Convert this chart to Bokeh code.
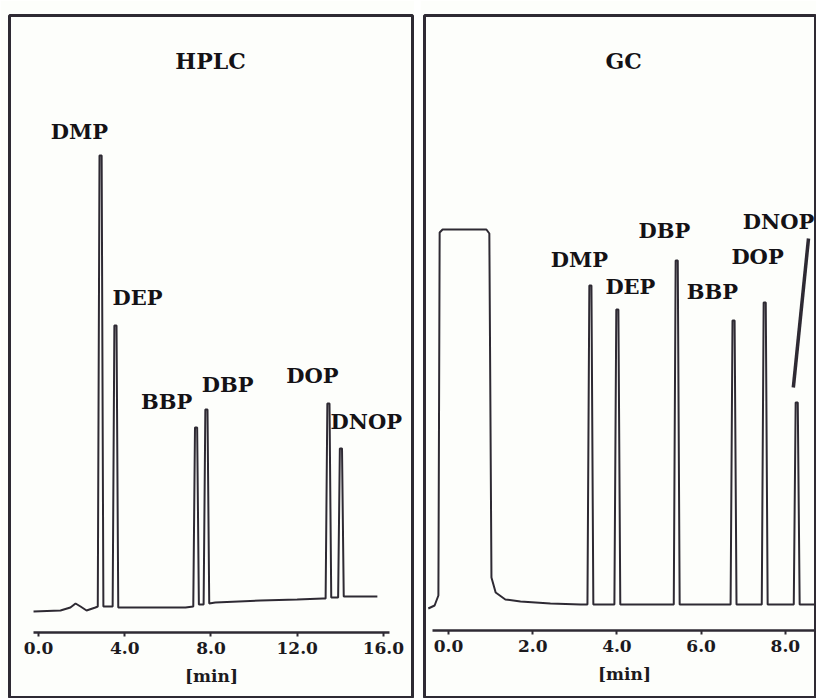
from bokeh.plotting import figure
from bokeh.layouts import row
from bokeh.models import LinearAxis, FixedTicker, PrintfTickFormatter, Range1d
from bokeh.core.properties import value
from bokeh.embed import file_html
from bokeh.resources import INLINE

# ---------------- data ----------------
# HPLC chromatogram: retention time [min] and detector response (arb. units)
hplc_time = [-0.23, 1.02, 1.48, 1.72, 1.95, 2.23, 2.64,
             2.75, 2.83, 2.93, 3.01, 3.20,
             3.44, 3.52, 3.62, 3.70, 3.90, 5.20, 6.82,
             7.18, 7.26, 7.36, 7.44, 7.55,
             7.66, 7.74, 7.84, 7.92, 8.20, 10.30, 12.00, 13.20,
             13.32, 13.40, 13.50, 13.58, 13.75,
             13.90, 13.98, 14.08, 14.16, 14.50, 15.72]
hplc_signal = [-4, -3, 0, 4, 1, -3, 0,
               1, 452, 452, 1, 1,
               1, 282, 282, 0, 0, 0, 0,
               1, 180, 180, 3, 3,
               3, 198, 198, 4, 5, 7, 8, 9,
               9, 204, 204, 10, 10,
               10, 159, 159, 11, 11, 11]

# GC chromatogram
gc_time = [-0.48, -0.33, -0.24, -0.21, -0.14, 0.90, 0.97,
           1.02, 1.12, 1.35, 1.71, 2.42, 3.14,
           3.30, 3.345, 3.395, 3.44,
           3.94, 3.985, 4.035, 4.08, 4.60,
           5.35, 5.395, 5.445, 5.49, 6.20,
           6.70, 6.745, 6.795, 6.84,
           7.44, 7.485, 7.535, 7.58,
           8.20, 8.245, 8.295, 8.34, 8.80]
gc_signal = [-1, 2, 12, 375, 378, 378, 374,
             30, 15, 8, 6, 4, 3,
             3, 322, 322, 3,
             3, 298, 298, 3, 3,
             3, 347, 347, 3, 3,
             3, 287, 287, 3,
             3, 305, 305, 3,
             3, 205, 205, 3, 3]

compounds_hplc = ["DMP", "DEP", "BBP", "DBP", "DOP", "DNOP"]
compounds_gc = ["DMP", "DEP", "DBP", "BBP", "DOP", "DNOP"]

hplc_ticks = [0, 4, 8, 12, 16]
gc_ticks = [0, 2, 4, 6, 8]

# ---------------- layout / styling (positions of annotations) ----------------
hplc_label_x = [1.90, 4.59, 5.94, 8.77, 12.71, 15.21]
hplc_label_y = [476, 310, 206, 223, 232, 186]
gc_label_x = [3.11, 4.32, 5.13, 6.27, 7.34, 7.84]
gc_label_y = [348, 321, 377, 316, 351, 386]
title_y = 547
dnop_leader_x = [8.19, 8.55]
dnop_leader_y = [220, 369]

INK = "#2e2a33"
BG = "#fdfefb"
FONT = "DejaVu Serif"
FIG_H = 698


def panel(width, x_range, mb_left, mb_right, ticks, axis_loc, bounds):
    p = figure(width=width, height=FIG_H, output_backend="svg", toolbar_location=None,
               x_range=Range1d(*x_range), y_range=Range1d(-91, 592),
               x_axis_type=None, y_axis_type=None,
               min_border_left=mb_left, min_border_right=mb_right,
               min_border_top=15, min_border_bottom=0)
    p.grid.visible = False
    p.background_fill_color = BG
    p.border_fill_color = BG
    p.outline_line_color = INK
    p.outline_line_width = 3
    ax = LinearAxis(fixed_location=axis_loc, bounds=bounds)
    ax.ticker = FixedTicker(ticks=ticks, minor_ticks=[])
    ax.formatter = PrintfTickFormatter(format="%.1f")
    ax.axis_line_color = INK
    ax.axis_line_width = 2.5
    ax.major_tick_line_color = INK
    ax.major_tick_line_width = 2
    ax.major_tick_in = 0
    ax.major_tick_out = 4
    ax.minor_tick_line_color = None
    ax.major_label_text_font = FONT
    ax.major_label_text_font_style = "bold"
    ax.major_label_text_font_size = "17px"
    ax.major_label_text_color = "#1c1a1e"
    ax.major_label_standoff = 5
    ax.axis_label = "[min]"
    ax.axis_label_text_font = FONT
    ax.axis_label_text_font_style = "bold"
    ax.axis_label_text_font_size = "17px"
    ax.axis_label_text_color = "#1c1a1e"
    ax.axis_label_standoff = 9
    p.add_layout(ax, "below")
    return p


# HPLC panel
p1 = panel(414, (-1.345, 17.35), 9, 2, hplc_ticks, -25, (-0.23, 16.3))
p1.line(hplc_time, hplc_signal, line_color=INK, line_width=2)
p1.text(x=hplc_label_x, y=hplc_label_y, text=compounds_hplc,
        text_align="center", text_baseline="middle",
        text_font=value(FONT), text_font_style="bold", text_font_size="21px",
        text_color="#141216")
p1.text(x=[7.98], y=[title_y], text=["HPLC"], text_align="center", text_baseline="middle",
        text_font=value(FONT), text_font_style="bold", text_font_size="22px",
        text_color="#141216")

# GC panel
p2 = panel(396, (-0.570, 8.74), 4, 0, gc_ticks, -23, (-0.38, 9.0))
p2.line(gc_time, gc_signal, line_color=INK, line_width=2)
p2.line(dnop_leader_x, dnop_leader_y, line_color=INK, line_width=3.5)
p2.text(x=gc_label_x, y=gc_label_y, text=compounds_gc,
        text_align="center", text_baseline="middle",
        text_font=value(FONT), text_font_style="bold", text_font_size="21px",
        text_color="#141216")
p2.text(x=[4.16], y=[title_y], text=["GC"], text_align="center", text_baseline="middle",
        text_font=value(FONT), text_font_style="bold", text_font_size="22px",
        text_color="#141216")

layout = row(p1, p2, spacing=6)
open("out.html", "w").write(file_html(layout, INLINE))
